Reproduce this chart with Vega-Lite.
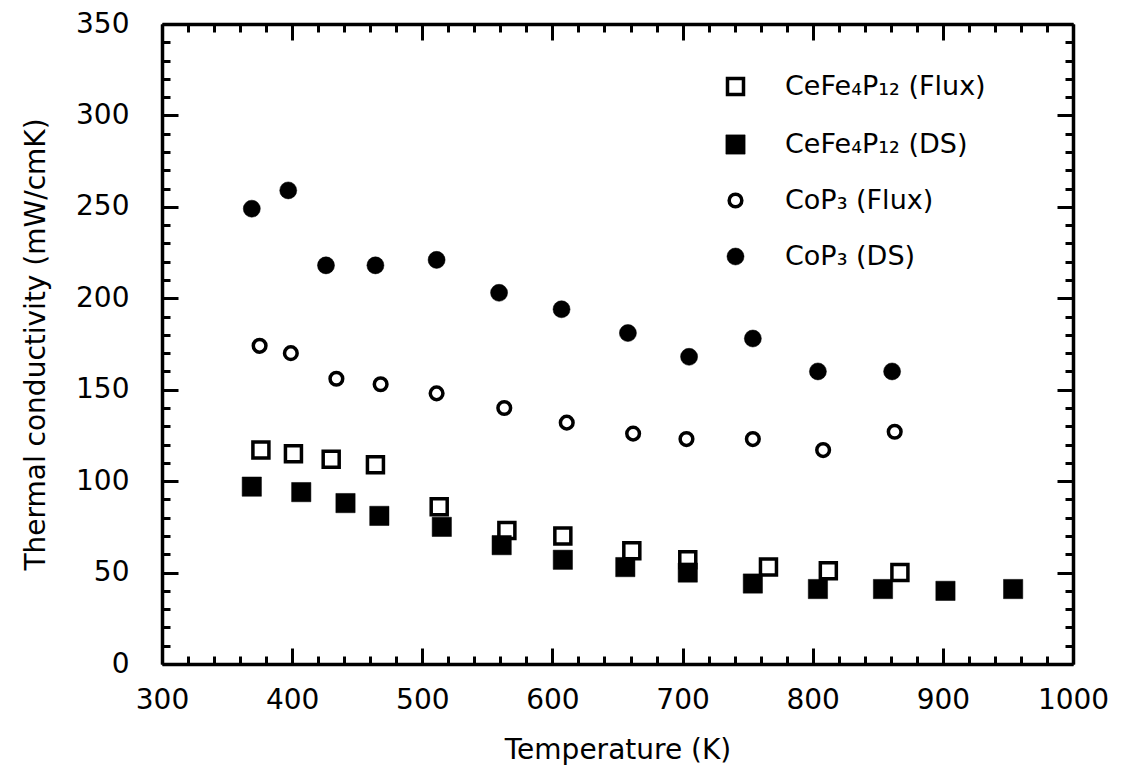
{
  "$schema": "https://vega.github.io/schema/vega-lite/v6.json",
  "autosize": "none",
  "width": 911,
  "height": 640,
  "padding": {"left": 162, "top": 24, "right": 53, "bottom": 103},
  "background": "white",
  "config": {
    "view": {"stroke": null},
    "axis": {"grid": false, "domainColor": "black", "domainWidth": 3.5, "tickColor": "black", "tickWidth": 3, "labelColor": "black", "titleColor": "black", "labelFont": "DejaVu Sans", "titleFont": "DejaVu Sans", "labelFontWeight": "normal", "titleFontWeight": "normal"}
  },
  "datasets": {
    "pts": [
      {"series": "CeFe₄P₁₂ (Flux)", "T": 376, "k": 117},
      {"series": "CeFe₄P₁₂ (Flux)", "T": 401, "k": 115},
      {"series": "CeFe₄P₁₂ (Flux)", "T": 430, "k": 112},
      {"series": "CeFe₄P₁₂ (Flux)", "T": 464, "k": 109},
      {"series": "CeFe₄P₁₂ (Flux)", "T": 513, "k": 86},
      {"series": "CeFe₄P₁₂ (Flux)", "T": 565, "k": 73},
      {"series": "CeFe₄P₁₂ (Flux)", "T": 608, "k": 70},
      {"series": "CeFe₄P₁₂ (Flux)", "T": 661, "k": 62},
      {"series": "CeFe₄P₁₂ (Flux)", "T": 704, "k": 57},
      {"series": "CeFe₄P₁₂ (Flux)", "T": 766, "k": 53},
      {"series": "CeFe₄P₁₂ (Flux)", "T": 812, "k": 51},
      {"series": "CeFe₄P₁₂ (Flux)", "T": 867, "k": 50},
      {"series": "CeFe₄P₁₂ (DS)", "T": 369, "k": 97},
      {"series": "CeFe₄P₁₂ (DS)", "T": 407, "k": 94},
      {"series": "CeFe₄P₁₂ (DS)", "T": 441, "k": 88},
      {"series": "CeFe₄P₁₂ (DS)", "T": 467, "k": 81},
      {"series": "CeFe₄P₁₂ (DS)", "T": 515, "k": 75},
      {"series": "CeFe₄P₁₂ (DS)", "T": 561, "k": 65},
      {"series": "CeFe₄P₁₂ (DS)", "T": 608, "k": 57},
      {"series": "CeFe₄P₁₂ (DS)", "T": 656, "k": 53},
      {"series": "CeFe₄P₁₂ (DS)", "T": 704, "k": 50},
      {"series": "CeFe₄P₁₂ (DS)", "T": 754, "k": 44},
      {"series": "CeFe₄P₁₂ (DS)", "T": 804, "k": 41},
      {"series": "CeFe₄P₁₂ (DS)", "T": 854, "k": 41},
      {"series": "CeFe₄P₁₂ (DS)", "T": 902, "k": 40},
      {"series": "CeFe₄P₁₂ (DS)", "T": 954, "k": 41},
      {"series": "CoP₃ (Flux)", "T": 375, "k": 174},
      {"series": "CoP₃ (Flux)", "T": 399, "k": 170},
      {"series": "CoP₃ (Flux)", "T": 434, "k": 156},
      {"series": "CoP₃ (Flux)", "T": 468, "k": 153},
      {"series": "CoP₃ (Flux)", "T": 511, "k": 148},
      {"series": "CoP₃ (Flux)", "T": 563, "k": 140},
      {"series": "CoP₃ (Flux)", "T": 611, "k": 132},
      {"series": "CoP₃ (Flux)", "T": 662, "k": 126},
      {"series": "CoP₃ (Flux)", "T": 703, "k": 123},
      {"series": "CoP₃ (Flux)", "T": 754, "k": 123},
      {"series": "CoP₃ (Flux)", "T": 808, "k": 117},
      {"series": "CoP₃ (Flux)", "T": 863, "k": 127},
      {"series": "CoP₃ (DS)", "T": 369, "k": 249},
      {"series": "CoP₃ (DS)", "T": 397, "k": 259},
      {"series": "CoP₃ (DS)", "T": 426, "k": 218},
      {"series": "CoP₃ (DS)", "T": 464, "k": 218},
      {"series": "CoP₃ (DS)", "T": 511, "k": 221},
      {"series": "CoP₃ (DS)", "T": 559, "k": 203},
      {"series": "CoP₃ (DS)", "T": 607, "k": 194},
      {"series": "CoP₃ (DS)", "T": 658, "k": 181},
      {"series": "CoP₃ (DS)", "T": 705, "k": 168},
      {"series": "CoP₃ (DS)", "T": 754, "k": 178},
      {"series": "CoP₃ (DS)", "T": 804, "k": 160},
      {"series": "CoP₃ (DS)", "T": 861, "k": 160}
    ]
  },
  "data": {"name": "pts"},
  "resolve": {"axis": {"x": "independent", "y": "independent"}},
  "layer": [
    {
      "mark": {"type": "point", "stroke": "black", "opacity": 1, "fillOpacity": 1, "strokeOpacity": 1},
      "encoding": {
        "x": {
          "field": "T", "type": "quantitative",
          "scale": {"domain": [300, 1000], "nice": false, "zero": false},
          "axis": {
            "orient": "bottom",
            "values": [300,320,340,360,380,400,420,440,460,480,500,520,540,560,580,600,620,640,660,680,700,720,740,760,780,800,820,840,860,880,900,920,940,960,980,1000],
            "tickSize": {"condition": {"test": "datum.value % 100 === 0", "value": -16}, "value": -8},
            "labelExpr": "datum.value % 100 === 0 ? datum.label : ''",
            "format": "d",
            "labelFontSize": 28,
            "labelPadding": 38,
            "labelFlush": false,
            "labelOverlap": false,
            "title": "Temperature  (K)",
            "titleFontSize": 28,
            "titlePadding": 14
          }
        },
        "y": {
          "field": "k", "type": "quantitative",
          "scale": {"domain": [0, 350], "nice": false, "zero": false},
          "axis": {
            "orient": "left",
            "values": [0,10,20,30,40,50,60,70,80,90,100,110,120,130,140,150,160,170,180,190,200,210,220,230,240,250,260,270,280,290,300,310,320,330,340,350],
            "tickSize": {"condition": {"test": "datum.value % 50 === 0", "value": -16}, "value": -8},
            "labelExpr": "datum.value % 50 === 0 ? datum.label : ''",
            "format": "d",
            "labelFontSize": 28,
            "labelPadding": 49,
            "labelFlush": false,
            "labelOverlap": false,
            "title": "Thermal  conductivity  (mW/cmK)",
            "titleFontSize": 28,
            "titlePadding": 25
          }
        },
        "shape": {
          "field": "series", "type": "nominal",
          "scale": {"domain": ["CeFe₄P₁₂ (Flux)", "CeFe₄P₁₂ (DS)", "CoP₃ (Flux)", "CoP₃ (DS)"], "range": ["square", "square", "circle", "circle"]},
          "legend": {
            "orient": "none", "legendX": 560, "legendY": 49, "title": null,
            "labelFont": "DejaVu Sans", "labelFontSize": 27, "labelColor": "black", "labelLimit": 0,
            "labelOffset": 36, "rowPadding": 28, "padding": 0
          }
        },
        "fill": {
          "field": "series", "type": "nominal",
          "scale": {"domain": ["CeFe₄P₁₂ (Flux)", "CeFe₄P₁₂ (DS)", "CoP₃ (Flux)", "CoP₃ (DS)"], "range": ["white", "black", "white", "black"]}
        },
        "size": {
          "field": "series", "type": "nominal",
          "scale": {"type": "ordinal", "domain": ["CeFe₄P₁₂ (Flux)", "CeFe₄P₁₂ (DS)", "CoP₃ (Flux)", "CoP₃ (DS)"], "range": [256, 372, 160, 290]}
        },
        "strokeWidth": {
          "field": "series", "type": "nominal",
          "scale": {"type": "ordinal", "domain": ["CeFe₄P₁₂ (Flux)", "CeFe₄P₁₂ (DS)", "CoP₃ (Flux)", "CoP₃ (DS)"], "range": [3.5, 0.5, 3.5, 0.5]}
        }
      }
    },
    {
      "mark": {"type": "point", "opacity": 0, "size": 0},
      "encoding": {
        "x": {
          "field": "T", "type": "quantitative",
          "axis": {
            "orient": "top",
            "values": [300,320,340,360,380,400,420,440,460,480,500,520,540,560,580,600,620,640,660,680,700,720,740,760,780,800,820,840,860,880,900,920,940,960,980,1000],
            "tickSize": {"condition": {"test": "datum.value % 100 === 0", "value": -16}, "value": -8},
            "labels": false,
            "title": null
          }
        },
        "y": {
          "field": "k", "type": "quantitative",
          "axis": {
            "orient": "right",
            "values": [0,10,20,30,40,50,60,70,80,90,100,110,120,130,140,150,160,170,180,190,200,210,220,230,240,250,260,270,280,290,300,310,320,330,340,350],
            "tickSize": {"condition": {"test": "datum.value % 50 === 0", "value": -16}, "value": -8},
            "labels": false,
            "title": null
          }
        }
      }
    }
  ]
}
